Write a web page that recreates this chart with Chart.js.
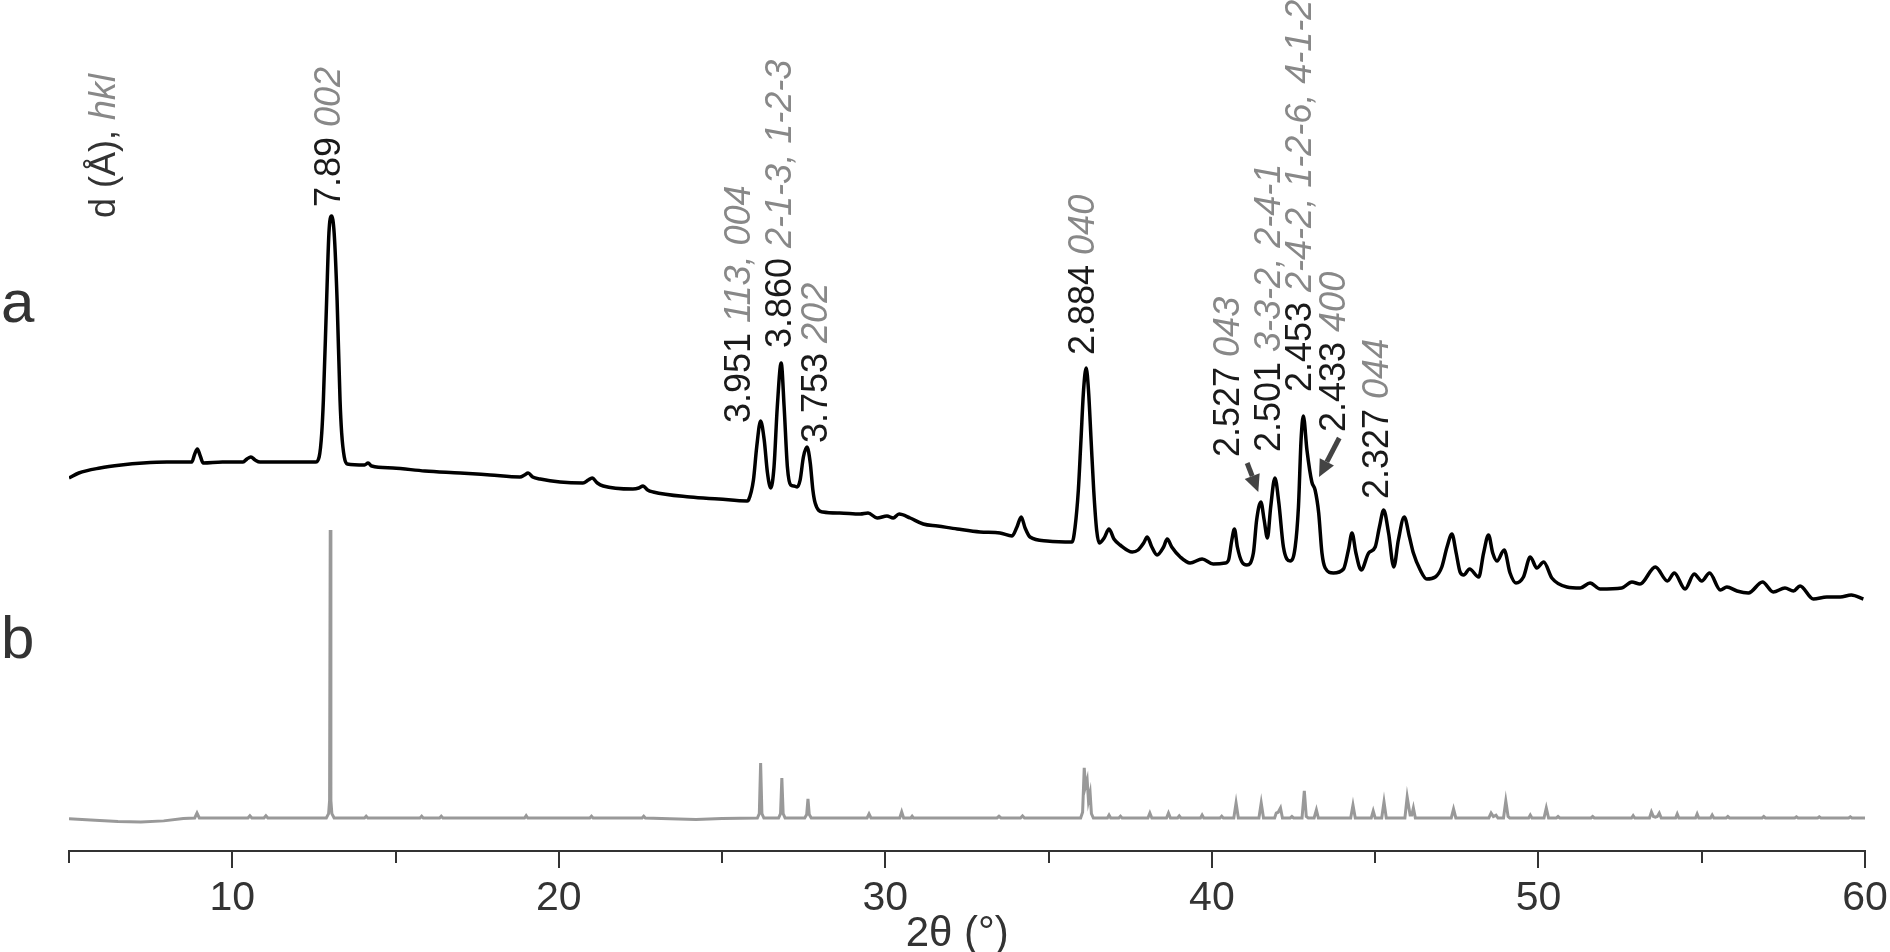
<!DOCTYPE html>
<html>
<head>
<meta charset="utf-8">
<title>XRD pattern</title>
<script src="https://cdn.jsdelivr.net/npm/chart.js@4.4.1/dist/chart.umd.min.js"></script>
<style>
    html, body { margin: 0; padding: 0; background: #fff; }
    #wrap { position: relative; width: 1890px; height: 952px; }
</style>
</head>
<body>
<div id="wrap"><canvas id="xrd"></canvas></div>
<script>
// measured pattern (a): [2theta, counts, arbitrary units]
const patternA = [
    [5.00, 373], [5.30, 378], [5.95, 383], [6.60, 386], [7.27, 388], [8.00, 389], [8.76, 389],
    [8.85, 397], [8.93, 402], [9.02, 395], [9.11, 388], [9.70, 389], [10.33, 389], [10.45, 392],
    [10.57, 394], [10.70, 391], [10.85, 389], [11.60, 389], [12.30, 389], [12.55, 389], [12.66, 394],
    [12.74, 418], [12.79, 451], [12.89, 551], [12.96, 618], [13.04, 635], [13.12, 618], [13.21, 551],
    [13.30, 451], [13.35, 418], [13.43, 394], [13.52, 387], [14.05, 386], [14.16, 388], [14.27, 385],
    [14.92, 383], [15.90, 380], [16.98, 378], [17.90, 376], [18.81, 374], [18.95, 376], [19.06, 378],
    [19.20, 374], [19.43, 372], [20.04, 369], [20.74, 368], [20.90, 371], [21.02, 373], [21.18, 368],
    [21.36, 365], [22.27, 362], [22.45, 363], [22.58, 365], [22.72, 361], [22.89, 359], [24.02, 354],
    [24.90, 352], [25.77, 350], [25.81, 351], [25.96, 371], [26.06, 404], [26.18, 430], [26.29, 411],
    [26.39, 378], [26.49, 363], [26.59, 384], [26.69, 444], [26.81, 488], [26.90, 444], [27.00, 384],
    [27.10, 366], [27.20, 365], [27.30, 364], [27.39, 371], [27.49, 394], [27.60, 404], [27.70, 388],
    [27.78, 361], [27.85, 348], [28.09, 339], [28.60, 338], [29.23, 337], [29.47, 338], [29.75, 333],
    [30.05, 335], [30.24, 333], [30.42, 337], [30.76, 333], [31.16, 327], [31.60, 325], [32.20, 322],
    [32.90, 319], [33.51, 318], [33.88, 315], [34.03, 324], [34.16, 334], [34.28, 323], [34.43, 314],
    [34.95, 310], [35.72, 309], [35.81, 324], [35.91, 361], [35.99, 411], [36.07, 461], [36.15, 483],
    [36.22, 461], [36.30, 411], [36.38, 361], [36.47, 321], [36.55, 308], [36.70, 313], [36.85, 322],
    [37.00, 312], [37.19, 306], [37.56, 299], [37.74, 301], [37.91, 308], [38.02, 314], [38.16, 304],
    [38.32, 296], [38.52, 304], [38.63, 312], [38.77, 304], [39.03, 294], [39.33, 288], [39.70, 292],
    [40.04, 287], [40.41, 288], [40.51, 291], [40.61, 311], [40.69, 322], [40.78, 304], [40.92, 289],
    [41.07, 286], [41.27, 298], [41.37, 331], [41.50, 349], [41.60, 331], [41.70, 313], [41.80, 344],
    [41.93, 373], [42.05, 348], [42.19, 304], [42.40, 290], [42.55, 304], [42.65, 344], [42.73, 411],
    [42.80, 435], [42.91, 401], [43.06, 369], [43.16, 361], [43.27, 338], [43.37, 298], [43.47, 283],
    [43.72, 278], [44.03, 282], [44.18, 301], [44.29, 318], [44.41, 298], [44.57, 281], [44.80, 298],
    [45.00, 304], [45.13, 324], [45.26, 341], [45.41, 318], [45.57, 284], [45.71, 311], [45.89, 334],
    [46.05, 314], [46.17, 298], [46.38, 281], [46.58, 272], [46.84, 274], [47.04, 284], [47.20, 304],
    [47.35, 317], [47.48, 298], [47.60, 279], [47.71, 276], [47.89, 282], [48.17, 274], [48.32, 298],
    [48.47, 316], [48.60, 298], [48.73, 290], [48.95, 301], [49.13, 278], [49.31, 268], [49.54, 274],
    [49.75, 294], [49.95, 283], [50.16, 289], [50.41, 273], [50.87, 264], [51.28, 263], [51.58, 268],
    [51.89, 262], [52.55, 263], [52.86, 269], [53.11, 267], [53.58, 284], [53.95, 270], [54.16, 278],
    [54.49, 262], [54.77, 277], [55.00, 270], [55.24, 278], [55.57, 261], [55.77, 264], [56.08, 260],
    [56.43, 258], [56.86, 269], [57.19, 259], [57.55, 263], [57.81, 260], [58.01, 265], [58.42, 252],
    [58.83, 254], [59.24, 254], [59.58, 256], [59.95, 252]
];

// calculated pattern (b): [2theta, relative intensity %]
const patternB = [
    [5.00, -0.3], [5.80, -0.8], [6.50, -1.2], [7.20, -1.4], [7.90, -1.0], [8.50, -0.2],
    [8.85, 0], [8.92, 1.7], [8.99, 0], [10.48, 0], [10.54, 0.8], [10.60, 0],
    [10.97, 0], [11.03, 0.8], [11.09, 0], [12.88, 0], [12.95, 1.5], [12.98, 6],
    [13.00, 100], [13.02, 6], [13.05, 1.5], [13.12, 0],
    [14.05, 0], [14.10, 0.6], [14.15, 0], [15.75, 0], [15.80, 0.6], [15.85, 0],
    [16.35, 0], [16.40, 0.6], [16.45, 0], [18.95, 0], [19.00, 0.8], [19.05, 0],
    [20.95, 0], [21.00, 0.6], [21.05, 0], [22.55, 0], [22.60, 0.6], [22.65, 0],
    [23.40, -0.3], [24.20, -0.5], [25.00, -0.2],
    [26.08, 0], [26.14, 1.5], [26.18, 19.1], [26.22, 1.5], [26.28, 0],
    [26.73, 0], [26.79, 1.5], [26.83, 13.9], [26.87, 1.5], [26.93, 0],
    [27.53, 0], [27.59, 1.2], [27.63, 6.6], [27.67, 1.2], [27.73, 0],
    [29.44, 0], [29.50, 1.4], [29.56, 0], [30.44, 0], [30.50, 2.1], [30.56, 0],
    [30.78, 0], [30.82, 0.6], [30.86, 0], [33.42, 0], [33.48, 0.6], [33.54, 0],
    [34.14, 0], [34.20, 0.7], [34.26, 0],
    [35.98, 0], [36.04, 2], [36.09, 17.4], [36.13, 11], [36.18, 13.2], [36.22, 6],
    [36.27, 8.7], [36.31, 1.5], [36.37, 0],
    [36.80, 0], [36.85, 1.0], [36.90, 0], [37.15, 0], [37.20, 0.6], [37.25, 0],
    [38.04, 0], [38.10, 1.7], [38.16, 0], [38.61, 0], [38.67, 1.7], [38.73, 0],
    [38.95, 0], [39.00, 0.7], [39.05, 0], [39.65, 0], [39.70, 1.0], [39.75, 0],
    [40.25, 0], [40.30, 0.6], [40.35, 0], [40.67, 0], [40.74, 5.2], [40.81, 0],
    [41.44, 0], [41.51, 5.2], [41.58, 0], [41.92, 0], [41.97, 1.7], [42.03, 2.0],
    [42.10, 3.5], [42.16, 0], [42.40, 0], [42.45, 0.5], [42.50, 0],
    [42.76, 0], [42.83, 9.4], [42.89, 0.5], [42.95, 0], [43.13, 0], [43.20, 2.8], [43.26, 0],
    [44.25, 0], [44.32, 4.5], [44.39, 0], [44.88, 0], [44.94, 2.4], [45.00, 0],
    [45.20, 0], [45.27, 5.6], [45.34, 0], [45.91, 0], [45.98, 7.3], [46.07, 1],
    [46.12, 1.0], [46.17, 3.5], [46.23, 0], [47.33, 0], [47.40, 3.1], [47.47, 0],
    [48.48, 0], [48.55, 1.7], [48.62, 0.5], [48.70, 1.0], [48.76, 0],
    [48.93, 0], [49.00, 5.9], [49.07, 0.5], [49.12, 0], [49.70, 0], [49.75, 1.0], [49.80, 0],
    [50.17, 0], [50.24, 3.5], [50.31, 0], [50.55, 0], [50.60, 0.5], [50.65, 0],
    [51.61, 0], [51.66, 0.5], [51.71, 0], [52.85, 0], [52.90, 0.8], [52.95, 0],
    [53.40, 0], [53.46, 2.1], [53.52, 0.5], [53.58, 0.3], [53.64, 0.5], [53.70, 1.7], [53.76, 0],
    [54.20, 0], [54.25, 1.4], [54.30, 0], [54.81, 0], [54.86, 1.4], [54.91, 0],
    [55.27, 0], [55.32, 1.0], [55.37, 0], [55.75, 0], [55.80, 0.5], [55.85, 0],
    [56.85, 0], [56.90, 0.5], [56.95, 0], [57.85, 0], [57.90, 0.4], [57.95, 0],
    [58.55, 0], [58.60, 0.4], [58.65, 0], [59.50, 0], [59.55, 0.4], [59.60, 0],
    [60.00, 0]
];

// x axis ticks (every 5 deg, labelled every 10)
const xTicks = [5, 10, 15, 20, 25, 30, 35, 40, 45, 50, 55, 60];
const xTitle = '2θ (°)';

// peak annotations: d spacing (A) and hkl
const peakTheta = [13.0, 25.55, 26.81, 27.91, 36.09, 40.53, 41.78, 42.73, 43.77, 45.09];
const peakD = ['7.89', '3.951', '3.860', '3.753', '2.884', '2.527', '2.501', '2.453', '2.433', '2.327'];
const peakHkl = ['002', '113, 004', '2-1-3, 1-2-3', '202', '040', '043', '3-3-2, 2-4-1',
    '2-4-2, 1-2-6, 4-1-2', '400', '044'];

// ---- layout (not data) ----
const FONT = "'Liberation Sans', Arial, Helvetica, sans-serif";
const labelBase = [644, 428, 503, 408, 496, 394, 399, 459, 419, 352]; // text start, in yA units
const header = { at: 6.1, base: 633 };
// arrows: [from 2theta, from yA, to 2theta, to yA]
const arrows = [
    [41.08, 388, 41.42, 359],
    [43.90, 413, 43.28, 374]
];

function drawVertical(ctx, x, y, parts) {
    ctx.save();
    ctx.translate(x, y);
    ctx.rotate(-Math.PI / 2);
    ctx.textBaseline = 'middle';
    ctx.textAlign = 'left';
    let off = 0;
    parts.forEach(p => {
        ctx.font = (p.italic ? 'italic ' : '') + '36px ' + FONT;
        ctx.fillStyle = p.color;
        ctx.fillText(p.text, off, 0);
        off += ctx.measureText(p.text).width;
    });
    ctx.restore();
}

function drawArrow(ctx, x1, y1, x2, y2) {
    const ang = Math.atan2(y2 - y1, x2 - x1);
    const head = 17, half = 8;
    const bx = x2 - head * Math.cos(ang);
    const by = y2 - head * Math.sin(ang);
    ctx.save();
    ctx.strokeStyle = '#444';
    ctx.fillStyle = '#444';
    ctx.lineWidth = 5;
    ctx.beginPath();
    ctx.moveTo(x1, y1);
    ctx.lineTo(bx, by);
    ctx.stroke();
    ctx.beginPath();
    ctx.moveTo(x2, y2);
    ctx.lineTo(bx + half * Math.sin(ang), by - half * Math.cos(ang));
    ctx.lineTo(bx - half * Math.sin(ang), by + half * Math.cos(ang));
    ctx.closePath();
    ctx.fill();
    ctx.restore();
}

const annotate = {
    id: 'annotate',
    afterDraw(chart) {
        const ctx = chart.ctx;
        const x = chart.scales.x;
        const y = chart.scales.yA;
        const area = chart.chartArea;

        // tick marks, longer on labelled ones
        ctx.save();
        ctx.strokeStyle = '#333';
        ctx.lineWidth = 2;
        xTicks.forEach(v => {
            const px = Math.round(x.getPixelForValue(v));
            ctx.beginPath();
            ctx.moveTo(px, area.bottom);
            ctx.lineTo(px, area.bottom + (v % 10 === 0 ? 17 : 12));
            ctx.stroke();
        });

        // axis title, sitting a little left of centre as in the figure
        ctx.font = '42px ' + FONT;
        ctx.fillStyle = '#333';
        ctx.textAlign = 'center';
        ctx.textBaseline = 'middle';
        ctx.fillText(xTitle, x.getPixelForValue(32.2), area.bottom + 83);
        ctx.restore();

        // panel letters
        ctx.save();
        ctx.font = '60px ' + FONT;
        ctx.fillStyle = '#333';
        ctx.textBaseline = 'alphabetic';
        ctx.fillText('a', area.left - 68, y.getPixelForValue(529));
        ctx.fillText('b', area.left - 68, y.getPixelForValue(193));
        ctx.restore();

        drawVertical(ctx, x.getPixelForValue(header.at), y.getPixelForValue(header.base), [
            { text: 'd (Å), ', color: '#333' },
            { text: 'hkl', color: '#888', italic: true }
        ]);

        peakTheta.forEach((t, i) => {
            drawVertical(ctx, x.getPixelForValue(t), y.getPixelForValue(labelBase[i]), [
                { text: peakD[i] + ' ', color: '#1a1a1a' },
                { text: peakHkl[i], color: '#888', italic: true }
            ]);
        });

        arrows.forEach(a => {
            drawArrow(ctx, x.getPixelForValue(a[0]), y.getPixelForValue(a[1]),
                x.getPixelForValue(a[2]), y.getPixelForValue(a[3]));
        });
    }
};

const ctx = document.getElementById('xrd').getContext('2d');
new Chart(ctx, {
    type: 'line',
    data: {
        datasets: [
            {
                label: 'a',
                data: patternA.map(p => ({ x: p[0], y: p[1] })),
                yAxisID: 'yA',
                borderColor: '#000',
                borderWidth: 3.5,
                pointRadius: 0,
                cubicInterpolationMode: 'monotone',
                fill: false
            },
            {
                label: 'b',
                data: patternB.map(p => ({ x: p[0], y: p[1] })),
                yAxisID: 'yB',
                borderColor: '#999',
                borderWidth: 3,
                pointRadius: 0,
                tension: 0,
                fill: false
            }
        ]
    },
    options: {
        responsive: true,
        maintainAspectRatio: false,
        animation: false,
        layout: { padding: { left: 69, right: 25, top: 0, bottom: 0 } },
        plugins: {
            legend: { display: false },
            tooltip: { enabled: false }
        },
        scales: {
            x: {
                type: 'linear',
                min: 5,
                max: 60,
                afterFit: scale => { scale.height = 101; },
                ticks: {
                    stepSize: 5,
                    autoSkip: false,
                    maxRotation: 0,
                    color: '#333',
                    padding: 0,
                    font: { family: FONT, size: 41, lineHeight: 1 },
                    callback: v => (v % 10 === 0 ? String(v) : '')
                },
                grid: {
                    drawOnChartArea: false,
                    drawTicks: true,
                    tickLength: 27,
                    color: 'rgba(0,0,0,0)'
                },
                border: { display: true, color: '#333', width: 2 },
                title: { display: false }
            },
            yA: { type: 'linear', min: 0, max: 851, display: false },
            yB: { type: 'linear', min: -11.46, max: 284.03, display: false }
        }
    },
    plugins: [annotate]
});
</script>
</body>
</html>
